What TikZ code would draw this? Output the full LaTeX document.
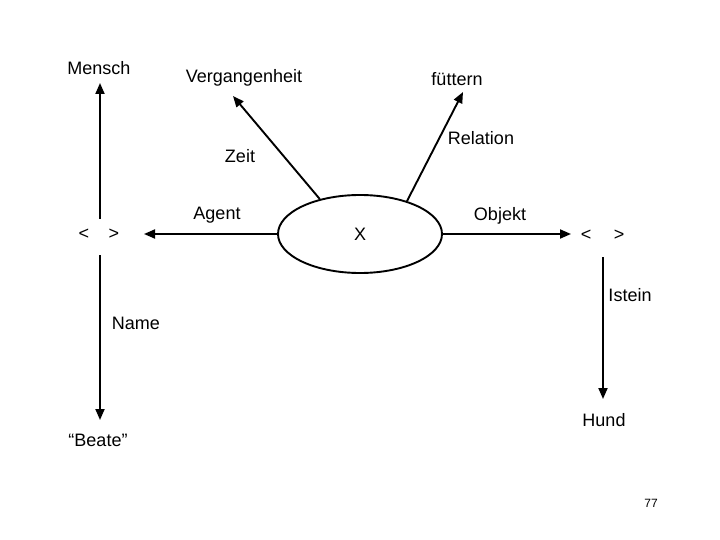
\documentclass[tikz,border=0pt]{standalone}
\usepackage{fontspec}
\setmainfont{Liberation Sans}
\usetikzlibrary{arrows.meta,shapes.geometric}
\begin{document}
\begin{tikzpicture}[x=1pt,y=-1pt,
  lbl/.style={inner sep=0pt,font=\fontsize{18}{21}\selectfont},
  arr/.style={line width=1.9pt,-{Triangle[length=11pt,width=9pt]}},
  ln/.style={line width=1.9pt}]
\useasboundingbox (0,0) rectangle (720,540);
\fill[white] (0,0) rectangle (720,540);
% central ellipse
\node[ellipse,draw,line width=1.9pt,minimum width=164pt,minimum height=78pt,inner sep=0pt,font=\fontsize{18}{21}\selectfont] (x) at (360,234) {X};
% labels
\node[lbl] (mensch) at (99,68) {Mensch};
\node[lbl] (verg) at (244,78) {Vergangenheit};
\node[lbl] (fuet) at (457,79) {füttern};
\node[lbl] (zeit) at (240,156) {Zeit};
\node[lbl] (rel) at (481,138) {Relation};
\node[lbl] (agent) at (217,215) {Agent};
\node[lbl] (objekt) at (500,216) {Objekt};
\node[lbl] (l1) at (84,234) {<};
\node[lbl] (r1) at (114,234) {>};
\node[lbl] (l2) at (586,235) {<};
\node[lbl] (r2) at (619,235) {>};
\node[lbl] (name) at (136,323) {Name};
\node[lbl] (beate) at (98,440) {“Beate”};
\node[lbl] (istein) at (630,295) {Istein};
\node[lbl] (hund) at (604,420) {Hund};
\node[inner sep=0pt,font=\fontsize{12}{14}\selectfont] (pg) at (651,503) {77};
% arrow tips / free ends
\coordinate (tv) at (233,96);
\coordinate (tf) at (463,92);
\coordinate (ta) at (144,234);
\coordinate (to) at (571,234);
\coordinate (mb) at (100,219);
\coordinate (mt) at (100,83);
\coordinate (bt) at (100,255);
\coordinate (bb) at (100,420);
\coordinate (ht) at (603,257);
\coordinate (hb) at (603,399);
% connectors
\draw[arr] (x.139) -- (tv);
\draw[arr] (x.35) -- (tf);
\draw[arr] (x.west) -- (ta);
\draw[arr] (x.east) -- (to);
\draw[arr] (mb) -- (mt);
\draw[arr] (bt) -- (bb);
\draw[arr] (ht) -- (hb);
\end{tikzpicture}
\end{document}
